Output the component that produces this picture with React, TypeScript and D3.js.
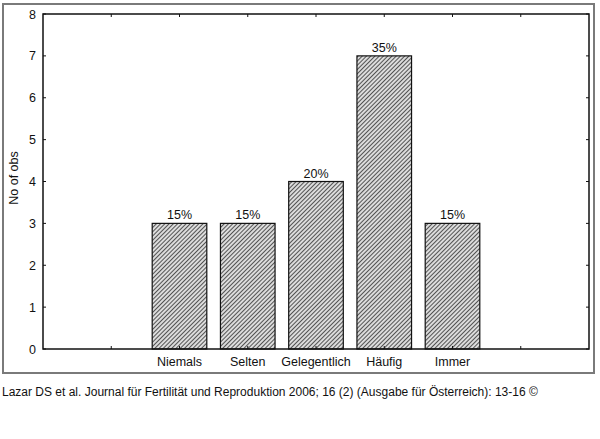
import React, { useEffect, useRef } from 'react';
import * as d3 from 'd3';

const categories = ['Niemals', 'Selten', 'Gelegentlich', 'Häufig', 'Immer'];
const counts = [3, 3, 4, 7, 3];
const percentLabels = ['15%', '15%', '20%', '35%', '15%'];
const yTicks = [0, 1, 2, 3, 4, 5, 6, 7, 8];
const xSlots = [1, 2, 3, 4, 5, 6, 7]; // category slots, first and last are empty
const caption = 'Lazar DS et al. Journal für Fertilität und Reproduktion 2006; 16 (2) (Ausgabe für Österreich): 13-16 ©';

const App: React.FC = () => {
  const svgRef = useRef<SVGSVGElement>(null);
  const width = 600;
  const height = 439;

  useEffect(() => {
    const svg = d3.select(svgRef.current);
    svg.selectAll('*').remove();

    const margin = { top: 14, right: 11, bottom: 90, left: 43 };
    const innerWidth = width - margin.left - margin.right;
    const innerHeight = height - margin.top - margin.bottom;
    const font = 'Liberation Sans, Arial, sans-serif';

    svg.append('rect').attr('width', width).attr('height', height).attr('fill', 'white');

    // hatch pattern
    const defs = svg.append('defs');
    const pat = defs.append('pattern')
      .attr('id', 'hatch')
      .attr('patternUnits', 'userSpaceOnUse')
      .attr('width', 3)
      .attr('height', 3)
      .attr('patternTransform', 'rotate(45)');
    pat.append('rect').attr('width', 3).attr('height', 3).attr('fill', '#dcdcdc');
    pat.append('line')
      .attr('x1', 0).attr('y1', 0).attr('x2', 0).attr('y2', 3)
      .attr('stroke', '#3a3a3a').attr('stroke-width', 1.7);

    // outer gray frame
    svg.append('rect')
      .attr('x', 3).attr('y', 4).attr('width', 591).attr('height', 369)
      .attr('fill', 'none').attr('stroke', '#7a7a7a').attr('stroke-width', 2);

    const x = d3.scaleLinear().domain([0, 8]).range([0, innerWidth]);
    const y = d3.scaleLinear().domain([0, 8]).range([innerHeight, 0]);
    const bw = (x(1) - x(0)) * 0.8;

    const g = svg.append('g').attr('transform', `translate(${margin.left},${margin.top})`);

    // bars
    g.selectAll('rect.bar')
      .data(counts)
      .join('rect')
      .attr('class', 'bar')
      .attr('x', (d, i) => x(i + 2) - bw / 2)
      .attr('y', d => y(d))
      .attr('width', bw)
      .attr('height', d => innerHeight - y(d))
      .attr('fill', 'url(#hatch)')
      .attr('stroke', '#111')
      .attr('stroke-width', 1.2);

    g.selectAll('text.pct')
      .data(counts)
      .join('text')
      .attr('class', 'pct')
      .attr('x', (d, i) => x(i + 2))
      .attr('y', d => y(d) - 4)
      .attr('text-anchor', 'middle')
      .attr('font-family', font)
      .attr('font-size', 12.5)
      .attr('fill', '#111')
      .text((d, i) => percentLabels[i]);

    // plot frame
    g.append('rect')
      .attr('width', innerWidth).attr('height', innerHeight)
      .attr('fill', 'none').attr('stroke', '#111').attr('stroke-width', 1.5);

    // ticks: left/right on y, top/bottom on x (pointing inward)
    g.selectAll('line.yl').data(yTicks).join('line').attr('class', 'yl')
      .attr('x1', 0).attr('x2', 3).attr('y1', d => y(d)).attr('y2', d => y(d))
      .attr('stroke', '#111');
    g.selectAll('line.yr').data(yTicks).join('line').attr('class', 'yr')
      .attr('x1', innerWidth - 3).attr('x2', innerWidth).attr('y1', d => y(d)).attr('y2', d => y(d))
      .attr('stroke', '#111');
    g.selectAll('line.xb').data(xSlots).join('line').attr('class', 'xb')
      .attr('x1', d => x(d)).attr('x2', d => x(d)).attr('y1', innerHeight).attr('y2', innerHeight - 3)
      .attr('stroke', '#111');
    g.selectAll('line.xt').data(xSlots).join('line').attr('class', 'xt')
      .attr('x1', d => x(d)).attr('x2', d => x(d)).attr('y1', 0).attr('y2', 3)
      .attr('stroke', '#111');

    g.selectAll('text.yt').data(yTicks).join('text').attr('class', 'yt')
      .attr('x', -7).attr('y', d => y(d) + 4.5)
      .attr('text-anchor', 'end')
      .attr('font-family', font).attr('font-size', 12.5).attr('fill', '#111')
      .text(d => d);

    g.selectAll('text.xt').data(categories).join('text').attr('class', 'xt')
      .attr('x', (d, i) => x(i + 2)).attr('y', innerHeight + 17)
      .attr('text-anchor', 'middle')
      .attr('font-family', font).attr('font-size', 12.5).attr('fill', '#111')
      .text(d => d);

    g.append('text')
      .attr('transform', 'rotate(-90)')
      .attr('x', -(178 - margin.top)).attr('y', -margin.left + 18)
      .attr('text-anchor', 'middle')
      .attr('font-family', font).attr('font-size', 12.5).attr('fill', '#111')
      .text('No of obs');

    svg.append('text')
      .attr('x', 2).attr('y', 396)
      .attr('font-family', font).attr('font-size', 12).attr('fill', '#111')
      .text(caption);
  }, []);

  return (
    <div style={{ position: 'absolute', left: 0, top: 0 }}>
      <svg ref={svgRef} width={width} height={height} style={{ display: 'block' }} />
    </div>
  );
};

export default App;
